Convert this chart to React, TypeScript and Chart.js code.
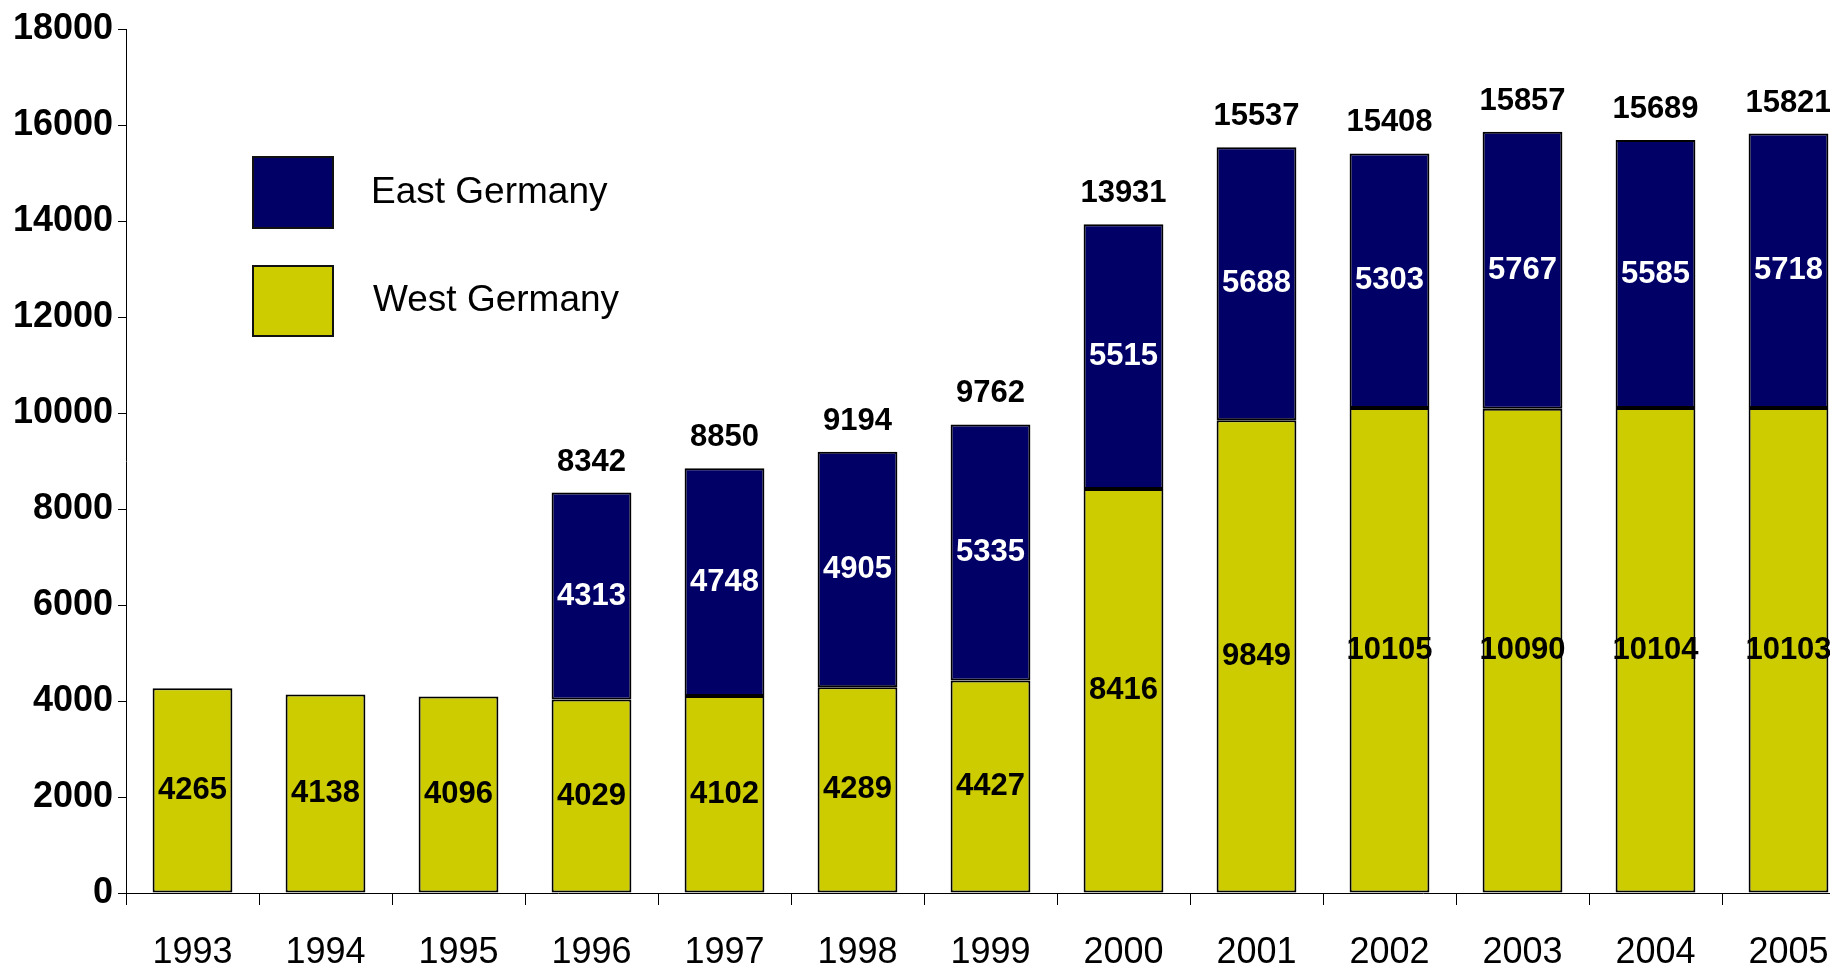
import React, { useEffect, useRef } from "react";
import { Chart, registerables } from "chart.js";

Chart.register(...registerables);

const years = ["1993", "1994", "1995", "1996", "1997", "1998", "1999", "2000", "2001", "2002", "2003", "2004", "2005"];
const westGermany = [4265, 4138, 4096, 4029, 4102, 4289, 4427, 8416, 9849, 10105, 10090, 10104, 10103];
const eastGermany: (number | null)[] = [null, null, null, 4313, 4748, 4905, 5335, 5515, 5688, 5303, 5767, 5585, 5718];
const yMin = 0;
const yMax = 18000;
const yStep = 2000;

const FONT = "'Liberation Sans', Arial, Helvetica, sans-serif";
const NAVY = "#000066";
const OLIVE = "#CCCC00";

const barLabels = {
  id: "barLabels",
  afterDatasetsDraw(chart: any) {
    const ctx = chart.ctx;
    ctx.save();
    ctx.textAlign = "center";
    ctx.textBaseline = "middle";
    chart.data.datasets.forEach((ds: any, di: number) => {
      const meta = chart.getDatasetMeta(di);
      meta.data.forEach((el: any, i: number) => {
        const v = ds.data[i];
        if (v == null) return;
        const p = el.getProps(["x", "y", "base"], true);
        ctx.fillStyle = di === 0 ? "#000000" : "#ffffff";
        ctx.font = `bold 31px ${FONT}`;
        ctx.fillText(String(v), p.x, (p.y + p.base) / 2);
      });
    });
    const eastMeta = chart.getDatasetMeta(1);
    ctx.textBaseline = "alphabetic";
    ctx.fillStyle = "#000000";
    ctx.font = `bold 31px ${FONT}`;
    eastMeta.data.forEach((el: any, i: number) => {
      const e = eastGermany[i];
      if (e == null) return;
      const total = westGermany[i] + e;
      const p = el.getProps(["x", "y"], true);
      ctx.fillText(String(total), p.x, p.y - 22);
    });
    ctx.restore();
  },
};

const boxLegend = {
  id: "boxLegend",
  afterDraw(chart: any) {
    const ctx = chart.ctx;
    const items = [
      { label: chart.data.datasets[1].label, color: chart.data.datasets[1].backgroundColor, y: 157, h: 71, tx: 371, ty: 193 },
      { label: chart.data.datasets[0].label, color: chart.data.datasets[0].backgroundColor, y: 266, h: 70, tx: 373, ty: 301 },
    ];
    ctx.save();
    items.forEach((it) => {
      ctx.fillStyle = it.color;
      ctx.fillRect(253, it.y, 80, it.h);
      ctx.lineWidth = 2;
      ctx.strokeStyle = "#111111";
      ctx.strokeRect(253, it.y, 80, it.h);
      ctx.fillStyle = "#000000";
      ctx.font = `37px ${FONT}`;
      ctx.textAlign = "left";
      ctx.textBaseline = "middle";
      ctx.fillText(it.label, it.tx, it.ty);
    });
    ctx.restore();
  },
};

export default function App() {
  const ref = useRef<HTMLCanvasElement | null>(null);

  useEffect(() => {
    if (!ref.current) return;
    const chart = new Chart(ref.current, {
      type: "bar",
      data: {
        labels: years,
        datasets: [
          {
            label: "West Germany",
            data: westGermany,
            backgroundColor: OLIVE,
            borderColor: "#000000",
            borderWidth: 2,
            borderSkipped: false,
            categoryPercentage: 1,
            barPercentage: 0.6,
          },
          {
            label: "East Germany",
            data: eastGermany,
            backgroundColor: NAVY,
            borderColor: "#000000",
            borderWidth: 2,
            borderSkipped: false,
            categoryPercentage: 1,
            barPercentage: 0.6,
          },
        ],
      },
      options: {
        responsive: false,
        animation: false,
        layout: { padding: { top: 29, right: 5, left: 0, bottom: 0 } },
        plugins: {
          legend: { display: false },
          tooltip: { enabled: false },
        },
        scales: {
          x: {
            stacked: true,
            grid: {
              display: true,
              offset: true,
              drawOnChartArea: false,
              drawTicks: true,
              tickLength: 12,
              color: "#000000",
              lineWidth: 1,
            },
            border: { display: true, color: "#000000", width: 1 },
            ticks: {
              color: "#000000",
              font: { family: FONT, size: 36 },
              padding: 26,
              maxRotation: 0,
              autoSkip: false,
            },
            afterFit(scale: any) {
              scale.height = 75;
            },
          },
          y: {
            stacked: true,
            min: yMin,
            max: yMax,
            grid: {
              display: true,
              drawOnChartArea: false,
              drawTicks: true,
              tickLength: 8,
              color: "#000000",
              lineWidth: 1,
            },
            border: { display: true, color: "#000000", width: 1 },
            ticks: {
              stepSize: yStep,
              color: "#000000",
              font: { family: FONT, size: 36, weight: "bold" },
              padding: 5,
              callback: (v: any) => String(v),
            },
            afterFit(scale: any) {
              scale.width = 126;
            },
          },
        },
      },
      plugins: [barLabels, boxLegend],
    });
    return () => chart.destroy();
  }, []);

  return (
    <div style={{ position: "fixed", left: 0, top: 0, width: 1830, height: 968, overflow: "hidden", background: "#ffffff" }}>
      <canvas ref={ref} width={1860} height={968} style={{ width: 1860, height: 968, display: "block" }} />
    </div>
  );
}
